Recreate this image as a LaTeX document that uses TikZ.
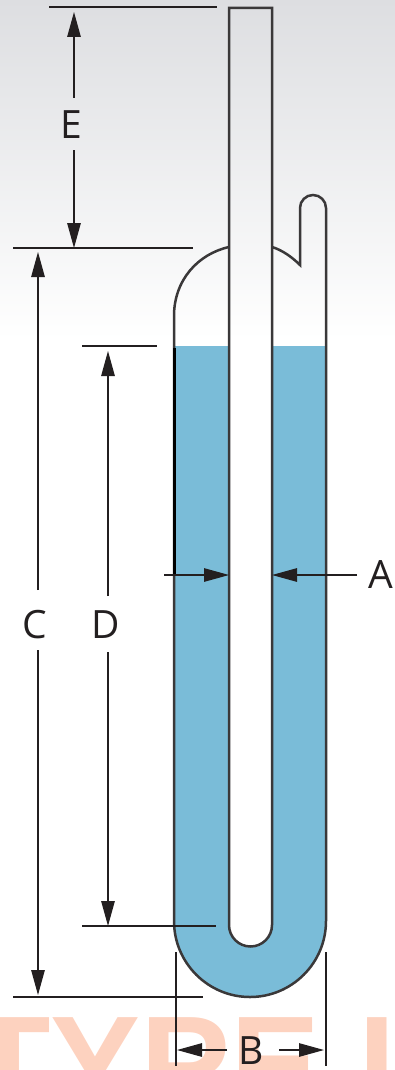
\documentclass[tikz,border=0pt]{standalone}
\usepackage{fontspec}
\setmainfont{Open Sans}
\newfontfamily\wmfont{Liberation Sans}
\usetikzlibrary{arrows.meta}
\definecolor{ink}{HTML}{231F20}
\definecolor{glass}{HTML}{3A3839}
\definecolor{liquid}{HTML}{7ABCD8}
\definecolor{peach}{HTML}{FDD2BF}
\definecolor{topgrey}{HTML}{DDDEE1}
\tikzset{
  x=1pt,y=1pt,
  tube/.style={draw=glass,line width=2.5pt,line join=miter},
  thinline/.style={draw=ink,line width=1.2pt},
  dim/.style={draw=ink,line width=1.2pt,-{Triangle[length=25pt,width=13.5pt]}},
  lab/.style={font=\fontsize{39}{39}\selectfont,text=ink,inner sep=0pt},
}
\begin{document}
\begin{tikzpicture}
\useasboundingbox (0,0) rectangle (395,-1070);
\shade[top color=topgrey,bottom color=white] (0,0) rectangle (395,-340);
\begin{scope}
  \clip (0,0) rectangle (395,-1070);
  \node[anchor=base west,inner sep=0pt,text=peach,font=\wmfont\bfseries\fontsize{135}{135}\selectfont] (wm) at (-32,-1110) {TYPE I};
\end{scope}
% liquid
\fill[liquid] (174,-346) -- (174,-921) arc[start angle=180,end angle=360,radius=76] -- (326,-346) -- cycle;
\fill[white] (229,-346) -- (229,-925) arc[start angle=180,end angle=360,radius=21.5] -- (272,-346) -- cycle;
% glass
\draw[tube] (229,-925) arc[start angle=180,end angle=360,radius=21.5] -- (272,-8) -- (229,-8) -- cycle;
\draw[tube,line cap=butt] (229,-247) .. controls (198,-254) and (174,-280) .. (174,-316) -- (174,-921) arc[start angle=180,end angle=360,radius=76] -- (326,-208) arc[start angle=0,end angle=180,radius=13] -- (300,-265) .. controls (292,-257) and (282,-250) .. (272,-247);
\draw[draw=black,line width=3pt] (174,-348) -- (174,-574);
% reference lines
\coordinate (eA) at (49,-7);   \coordinate (eB) at (217,-7);
\coordinate (cA) at (13,-248); \coordinate (cB) at (193,-248);
\coordinate (dA) at (82,-346); \coordinate (dB) at (157,-346);
\coordinate (fA) at (82,-926); \coordinate (fB) at (216,-926);
\coordinate (gA) at (13,-997); \coordinate (gB) at (203,-997);
\coordinate (bA) at (176,-952); \coordinate (bB) at (176,-1066);
\coordinate (bC) at (326,-952); \coordinate (bD) at (326,-1066);
\draw[thinline] (eA) -- (eB);
\draw[thinline] (cA) -- (cB);
\draw[draw=ink,line width=2.6pt] (dA) -- (dB);
\draw[thinline] (fA) -- (fB);
\draw[thinline] (gA) -- (gB);
\draw[thinline,line width=1.4pt] (bA) -- (bB);
\draw[thinline,line width=1.4pt] (bC) -- (bD);
% labels
\node[lab] (lE) at (71,-125) {E};
\node[lab] (lC) at (35,-625) {C};
\node[lab] (lD) at (106,-625) {D};
\node[lab] (lA) at (381,-575) {A};
\node[lab] (lB) at (251,-1051) {B};
% dimension arrows
\coordinate (e1) at (74,-98);  \coordinate (e2) at (74,-12);
\coordinate (e3) at (74,-150); \coordinate (e4) at (74,-248);
\draw[dim] (e1) -- (e2);
\draw[dim] (e3) -- (e4);
\coordinate (c1) at (38,-590); \coordinate (c2) at (38,-252);
\coordinate (c3) at (38,-650); \coordinate (c4) at (38,-995);
\coordinate (c5) at (38,-348);
\draw[dim] (c1) -- (c2);
\draw[draw=ink,line width=2.2pt] (c5) -- (38,-276);
\draw[dim] (c3) -- (c4);
\coordinate (d1) at (108,-596); \coordinate (d2) at (108,-351);
\coordinate (d3) at (108,-652); \coordinate (d4) at (108,-926);
\draw[dim] (d1) -- (d2);
\draw[dim] (d3) -- (d4);
\coordinate (a1) at (164,-575); \coordinate (a2) at (229,-575);
\coordinate (a3) at (357,-575); \coordinate (a4) at (272,-575);
\draw[dim] (a1) -- (a2);
\draw[dim] (a3) -- (a4);
\coordinate (b1) at (227,-1050); \coordinate (b2) at (177,-1050);
\coordinate (b3) at (279,-1050); \coordinate (b4) at (324,-1050);
\draw[dim] (b1) -- (b2);
\draw[dim] (b3) -- (b4);
\end{tikzpicture}
\end{document}
